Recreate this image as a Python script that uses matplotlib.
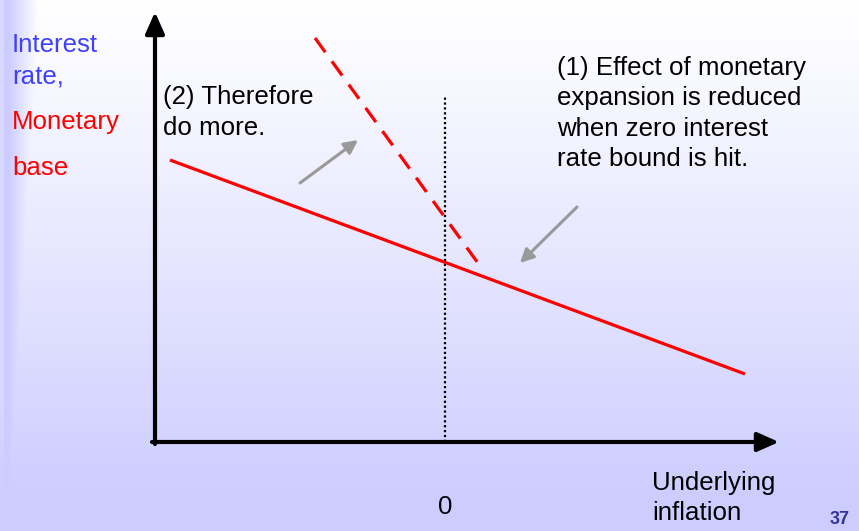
import numpy as np
import matplotlib
matplotlib.use("Agg")
import matplotlib.pyplot as plt

plt.rcParams['font.family'] = ['Liberation Sans', 'DejaVu Sans']

# diagram units: x = underlying inflation (0 at the dotted line), y = rate / base
origin = (-2.90, 0.0)
y_axis_top = 4.30
x_axis_end = 3.34

# rule before the zero bound and the steeper "do more" rule
solid_x = [-2.75, 3.00]
solid_y = [2.82, 0.68]
dashed_x = [-1.30, 0.38]
dashed_y = [4.04, 1.72]

zero_x = 0.0
zero_top = 3.46

# grey pointer arrows (tail, head)
pointer_up = ((-1.45, 2.59), (-0.87, 3.02))
pointer_down = ((1.32, 2.35), (0.75, 1.79))

W, H = 859, 531
fig = plt.figure(figsize=(W / 100, H / 100), dpi=100)

# slide background: white at top fading to lavender, plus a strip on the left
bg = fig.add_axes([0, 0, 1, 1])
yy, xx = np.mgrid[0:H, 0:W]
tv = np.clip(yy / 500.0, 0, 1) ** 1.1
th = np.clip((38 - xx) / 30.0, 0, 1)
th[:, :4] = 0.75
t = np.maximum(tv, th)[..., None]
white = np.array([1.0, 1.0, 1.0])
lav = np.array([0.80, 0.80, 1.0])
img = white * (1 - t) + lav * t
bg.imshow(img, extent=(0, W, H, 0), aspect='auto', interpolation='bilinear')
bg.set_axis_off()

ax = fig.add_axes([0, 0, 1, 1])
ax.set_xlim(-4.45, 4.14)
ax.set_ylim(-0.89, 4.42)
ax.set_axis_off()
ax.patch.set_alpha(0)

# axes with arrow heads
axis_kw = dict(arrowstyle='-|>,head_length=0.9,head_width=0.4', color='black',
               lw=3.0, shrinkA=0, shrinkB=0, mutation_scale=14.4)
ax.annotate('', xy=(origin[0], y_axis_top), xytext=(origin[0], origin[1] - 0.02),
            arrowprops=axis_kw)
ax.annotate('', xy=(x_axis_end, origin[1]), xytext=(origin[0] - 0.03, origin[1]),
            arrowprops=axis_kw)

ax.plot([zero_x, zero_x], [origin[1], zero_top], color='black', lw=1.6,
        ls=(0, (1, 1.2)))

ax.plot(solid_x, solid_y, color='#FF0000', lw=2.3, solid_capstyle='butt')
ax.plot(dashed_x, dashed_y, color='#FF0000', lw=2.3, ls=(0, (5.5, 3.5)),
        dash_capstyle='butt')

grey_kw = dict(arrowstyle='-|>,head_length=0.9,head_width=0.45', color='#999999',
               lw=2.2, shrinkA=0, shrinkB=0, mutation_scale=9)
for tail, head in (pointer_up, pointer_down):
    ax.annotate('', xy=head, xytext=tail, arrowprops=grey_kw)

fs = 18.6
ax.text(-4.33, 3.81, 'Interest\nrate,', color='#3F3FFF', fontsize=fs,
        va='center', ha='left', linespacing=1.4)
ax.text(-4.33, 3.20, 'Monetary', color='#FF0000', fontsize=fs, va='center', ha='left')
ax.text(-4.33, 2.74, 'base', color='#FF0000', fontsize=fs, va='center', ha='left')

ax.text(-2.82, 3.295, '(2) Therefore\ndo more.', color='black', fontsize=fs,
        va='center', ha='left', linespacing=1.35)
ax.text(1.12, 3.285, '(1) Effect of monetary\nexpansion is reduced\n'
        'when zero interest\nrate bound is hit.', color='black', fontsize=fs,
        va='center', ha='left', linespacing=1.32)

ax.text(zero_x, -0.65, '0', color='black', fontsize=fs, va='center', ha='center')
ax.text(2.07, -0.56, 'Underlying\ninflation', color='black', fontsize=fs,
        va='center', ha='left', linespacing=1.32)

ax.text(3.85, -0.78, '37', color='#333399', fontsize=13, fontweight='bold',
        va='center', ha='left')

fig.savefig('out.png', dpi=100)
